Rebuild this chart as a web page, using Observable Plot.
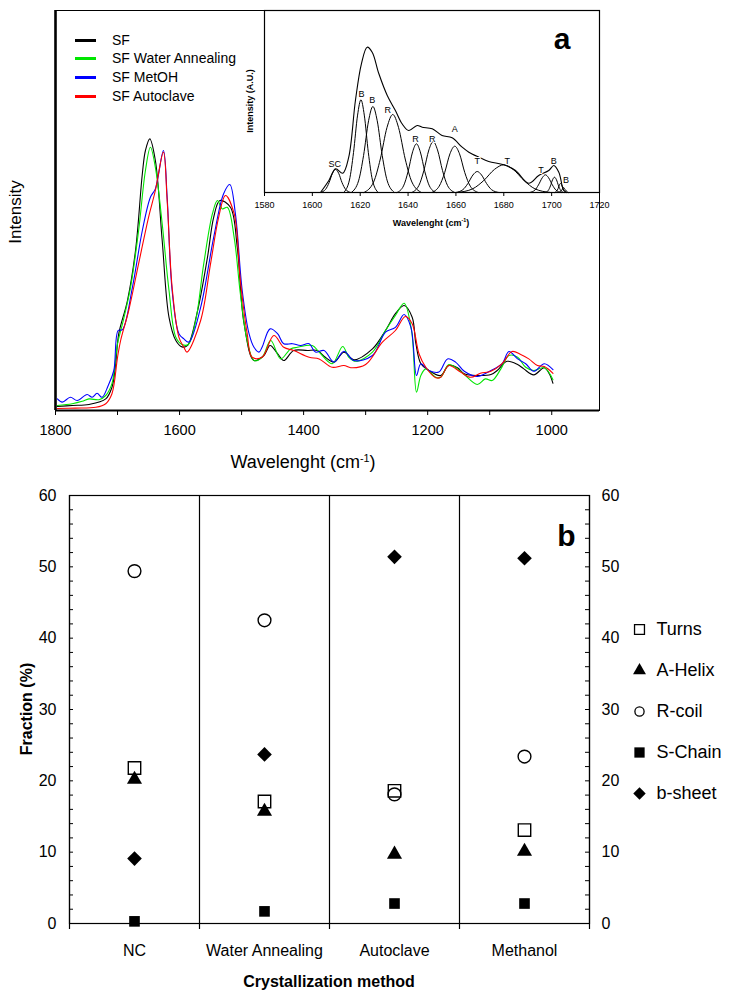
<!DOCTYPE html>
<html><head><meta charset="utf-8">
<script src="https://cdn.jsdelivr.net/npm/d3@7"></script>
<script src="https://cdn.jsdelivr.net/npm/@observablehq/plot@0.6"></script>
<style>
body{margin:0;background:#fff;font-family:"Liberation Sans",Arial,sans-serif;}
#fig{position:relative;width:732px;height:1001px;overflow:hidden;background:#fff;}
.lbl{position:absolute;white-space:nowrap;line-height:1;color:#000;}
.lbl sup{font-size:0.6em;vertical-align:0.6em;}
</style></head><body><div id="fig"></div>
<script>
// ---------------- Panel a : FTIR spectra ----------------
const seriesNames = ["SF", "SF Water Annealing", "SF MetOH", "SF Autoclave"];
const seriesColors = ["#000000", "#00e600", "#0000ff", "#ff0000"];

const specSF = [[1797,1.0],[1773,1.25],[1746,1.5],[1719,2.9],[1709,5.8],[1703,11.7],[1698,19.2],[1684,27.5],[1671,40],[1660,59.2],[1655,65],[1648,67.9],[1639,62.5],[1628,42.5],[1617,23.3],[1606,17.5],[1596,15.9],[1587,16.3],[1572,24.2],[1555,38.3],[1545,48.3],[1535,52.5],[1518,50.8],[1507,40.8],[1496,21.7],[1480,12.5],[1464,13.75],[1454,16.25],[1442,14.2],[1432,12.5],[1416,15],[1394,15],[1378,15],[1365,13.3],[1351,12.1],[1335,14.6],[1319,12.7],[1289,15.4],[1268,20],[1252,24.2],[1238,26.25],[1225,23.3],[1219,16.7],[1211,11.7],[1198,10],[1179,8.75],[1166,11.25],[1152,10.7],[1141,9.2],[1120,8.75],[1098,9],[1088,10],[1072,12.3],[1055,11.5],[1045,10.4],[1029,8.9],[1012,10.7],[1004,9.2],[998,6.8]];
const specWater = [[1797,1.25],[1773,1.7],[1757,2.3],[1746,2.9],[1730,2.7],[1719,3.75],[1709,6.7],[1700,16.7],[1692,21.7],[1679,30.8],[1666,45],[1655,60],[1647,65.8],[1639,60.8],[1628,46.7],[1617,30],[1606,18.3],[1596,16.5],[1586,16.5],[1574,22.5],[1561,36.7],[1547,49.2],[1539,52.5],[1531,50.4],[1523,50.8],[1512,43.3],[1502,29.2],[1491,17.5],[1480,12.5],[1467,13.3],[1453,17.5],[1437,12.9],[1421,15.4],[1410,15.8],[1386,16.25],[1375,14.6],[1354,11.7],[1337,16],[1327,13.3],[1316,12.3],[1289,14.6],[1268,20],[1252,23.75],[1238,26.8],[1226,20],[1218,4.6],[1211,8.75],[1203,10.4],[1187,8.3],[1179,8.3],[1166,11.5],[1152,10.4],[1141,9],[1120,6.5],[1107,7.9],[1096,7.5],[1082,10.4],[1069,13.75],[1055,13.3],[1042,10.8],[1029,10],[1012,10.7],[998,7.7]];
const specMetOH = [[1797,2.9],[1789,2.1],[1776,3.3],[1765,2.5],[1749,4],[1741,3.3],[1733,4.3],[1725,3.3],[1715,6.25],[1706,10],[1699,20],[1692,20.2],[1676,30.8],[1660,45],[1647,53.3],[1639,55.4],[1626,65],[1620,53.3],[1612,30],[1601,19.2],[1593,17.9],[1585,17.1],[1566,25.8],[1545,43.3],[1529,54.2],[1519,56.5],[1510,49.2],[1499,30],[1488,19.2],[1480,15.8],[1472,14.6],[1467,15.8],[1454,20.4],[1442,19.2],[1432,16.7],[1418,16.7],[1405,16.25],[1391,16.7],[1381,14.6],[1367,15],[1351,12.1],[1335,14.8],[1319,12.5],[1289,13.75],[1268,19.6],[1252,20.8],[1238,24],[1227,20.8],[1218,8.75],[1211,11.7],[1198,10],[1182,9.6],[1168,12.9],[1155,12.1],[1141,9.8],[1120,8.5],[1098,10],[1080,11.7],[1069,14.75],[1055,12.9],[1042,11.7],[1029,9.8],[1012,11.7],[998,10.2]];
const specAutoclave = [[1797,0.5],[1768,0.6],[1735,0.8],[1719,1.7],[1709,4.2],[1700,13.3],[1695,17.5],[1682,25],[1666,36.7],[1650,48.3],[1639,55],[1626,64.6],[1620,52.5],[1612,30.8],[1601,18.3],[1593,15.8],[1588,14.6],[1566,22.5],[1550,36.7],[1537,48.3],[1526,53.75],[1512,49.2],[1502,32.5],[1491,19.2],[1483,13.3],[1467,13.3],[1448,18.75],[1432,15.8],[1416,15],[1391,13.3],[1375,12.9],[1354,10.8],[1335,11.25],[1324,10.7],[1300,11.5],[1273,17.1],[1252,20],[1236,23.5],[1225,21.7],[1214,14.2],[1203,10.8],[1187,8.2],[1179,8.3],[1166,11.25],[1147,9.6],[1131,8.3],[1115,9.3],[1098,9.8],[1080,11.7],[1064,14.75],[1050,14],[1037,12.9],[1023,11.25],[1012,11],[998,9.3]];
const spectra = [specSF, specWater, specMetOH, specAutoclave];

const mainTicks = [1800, 1600, 1400, 1200, 1000];
const mainMinorTicks = [1700, 1500, 1300, 1100];

// ---------------- Panel a inset : amide I deconvolution ----------------
const insetEnvelope = [[1603.4,0],[1606.9,12],[1609.7,23.7],[1612.7,19.3],[1615.2,35.3],[1618.0,92],[1620.5,128.7],[1622.9,145.3],[1625.0,140.3],[1627.8,118.7],[1631.3,97],[1634.7,82],[1637.5,68.7],[1640.3,62],[1643.8,67],[1645.9,65.3],[1650.1,63.7],[1654.2,57],[1658.4,54.7],[1662.6,45.3],[1665.4,40.3],[1669.6,35.3],[1673.7,31],[1680.0,27.7],[1684.9,22],[1690.4,9.3],[1694.6,17],[1698.8,22],[1700.9,27],[1703.0,20.3],[1705.1,2],[1706.5,0]];
const bandSC = [[1603.4,0],[1605.5,3.1],[1607.0,9.9],[1608.4,19.2],[1609.7,23],[1611.0,19.2],[1612.4,9.9],[1613.9,3.1],[1616.0,0]];
const bandB1 = [[1613.1,0],[1615.5,12.5],[1617.2,39.9],[1618.9,77.4],[1620.3,92.7],[1621.7,77.4],[1623.4,39.9],[1625.1,12.5],[1627.5,0]];
const bandB2 = [[1616.3,0],[1619.3,11.6],[1621.4,37],[1623.5,71.8],[1625.3,86],[1627.1,71.8],[1629.2,37],[1631.3,11.6],[1634.3,0]];
const bandR1 = [[1621.6,0],[1625.6,10.5],[1628.4,33.5],[1631.2,65.1],[1633.6,78],[1636.0,65.1],[1638.8,33.5],[1641.6,10.5],[1645.6,0]];
const bandR2 = [[1635.4,0],[1638.1,6.6],[1640.0,20.9],[1641.9,40.7],[1643.5,48.7],[1645.1,40.7],[1647.0,20.9],[1648.9,6.6],[1651.6,0]];
const bandR3 = [[1641.5,0],[1644.5,6.9],[1646.6,21.9],[1648.7,42.6],[1650.5,51],[1652.3,42.6],[1654.4,21.9],[1656.5,6.9],[1659.5,0]];
const bandA  = [[1649.8,0],[1653.0,6.3],[1655.3,19.9],[1657.5,38.7],[1659.5,46.3],[1661.5,38.7],[1663.7,19.9],[1666.0,6.3],[1669.3,0]];
const bandT1 = [[1659.9,0],[1662.9,2.8],[1665.0,9.0],[1667.1,17.5],[1668.9,21],[1670.7,17.5],[1672.8,9.0],[1674.9,2.8],[1677.9,0]];
const bandT2 = [[1660.5,0],[1667.0,3.7],[1671.6,11.9],[1676.1,23.1],[1680.0,27.7],[1683.9,23.1],[1688.5,11.9],[1693.0,3.7],[1699.5,0]];
const bandT3 = [[1690.8,0],[1693.0,2.4],[1694.5,7.6],[1696.1,14.8],[1697.4,17.7],[1698.7,14.8],[1700.3,7.6],[1701.8,2.4],[1704.0,0]];
const bandB3 = [[1697.3,0],[1698.6,2.1],[1699.5,6.6],[1700.4,12.8],[1701.2,15.3],[1702.0,12.8],[1702.9,6.6],[1703.8,2.1],[1705.1,0]];
const bandB4 = [[1701.3,0],[1702.7,3.9],[1703.2,7.5],[1703.7,9],[1704.2,7.5],[1704.7,3.9],[1706.1,0]];
const bandB5 = [[1703.2,0],[1704.4,3],[1705.0,5],[1705.6,3],[1706.8,0]];
const insetBands = [bandSC, bandB1, bandB2, bandR1, bandR2, bandR3, bandA, bandT1, bandT2, bandT3, bandB3, bandB4, bandB5];
const insetLabelText = ["SC","B","B","R","R","R","A","T","T","T","B","B"];
const insetLabelWave = [1609.4,1620.5,1625.0,1631.5,1643.1,1650.1,1659.5,1668.9,1681.4,1695.6,1700.9,1706.0];
const insetLabelInt  = [28,98,92.7,82,53.7,53.7,63.7,31.3,31.3,22.7,31.3,12.3];
const insetTicks = [1580,1600,1620,1640,1660,1680,1700,1720];

// ---------------- Panel b : secondary structure fractions ----------------
const methods = ["NC", "Water Annealing", "Autoclave", "Methanol"];
const structures = ["Turns", "A-Helix", "R-coil", "S-Chain", "b-sheet"];
const turns  = [21.8, 17.1, 18.6, 13.1];
const aHelix = [20.2, 15.7, 9.7, 10.1];
const rCoil  = [49.4, 42.5, 18.1, 23.4];
const sChain = [0.3, 1.7, 2.8, 2.8];
const bSheet = [9.1, 23.7, 51.4, 51.2];
const fractionSeries = [turns, aHelix, rCoil, sChain, bSheet];
const fractionTicks = [0, 10, 20, 30, 40, 50, 60];
const fractionMinorTicks = d3.range(0, 61, 2);

// ---------------- helpers ----------------
const FONT = '"Liberation Sans", Arial, sans-serif';
const fig = document.getElementById("fig");
const baseStyle = {background: "none", fontFamily: FONT, overflow: "visible", color: "#000"};
function place(el, left, top) {
  el.style.position = "absolute"; el.style.left = left + "px"; el.style.top = top + "px";
  fig.appendChild(el);
}
function label(html, cx, cy, css, rotate) {
  const d = document.createElement("div");
  d.className = "lbl";
  d.innerHTML = html;
  d.style.left = cx + "px"; d.style.top = cy + "px";
  d.style.transform = "translate(-50%,-50%)" + (rotate ? ` rotate(${rotate}deg)` : "");
  Object.assign(d.style, css || {});
  fig.appendChild(d);
}
const styleByStructure = {
  "Turns":   {symbol: "square",   r: 7.0, fill: "none",  stroke: "black", strokeWidth: 1.4},
  "A-Helix": {symbol: "triangle", r: 5.6, fill: "black", stroke: "none"},
  "R-coil":  {symbol: "circle",   r: 6.4, fill: "none",  stroke: "black", strokeWidth: 1.4},
  "S-Chain": {symbol: "square",   r: 6.0, fill: "black", stroke: "none"},
  "b-sheet": {symbol: "diamond2", r: 6.6, fill: "black", stroke: "none"}
};
const legendStyle = {
  "Turns":   {symbol: "square",   r: 5.6, fill: "none",  stroke: "black", strokeWidth: 1.3},
  "A-Helix": {symbol: "triangle", r: 4.8, fill: "black", stroke: "none"},
  "R-coil":  {symbol: "circle",   r: 4.6, fill: "none",  stroke: "black", strokeWidth: 1.3},
  "S-Chain": {symbol: "square",   r: 5.8, fill: "black", stroke: "none"},
  "b-sheet": {symbol: "diamond2", r: 5.6, fill: "black", stroke: "none"}
};

// ---------------- main spectra plot ----------------
const specRows = spectra.flatMap((s, k) => s.map(([w, v]) => ({series: seriesNames[k], w, v})));
const mainPlot = Plot.plot({
  width: 732, height: 490,
  marginLeft: 55, marginRight: 133, marginTop: 10, marginBottom: 80,
  style: baseStyle,
  x: {domain: [1800, 923], axis: null},
  y: {domain: [0, 100], axis: null},
  color: {domain: seriesNames, range: seriesColors},
  marks: [
    Plot.frame({stroke: "black", strokeWidth: 1}),
    Plot.line(specRows, {x: "w", y: "v", z: "series", stroke: "series", strokeWidth: 1.1, curve: "catmull-rom"}),
    Plot.ruleX([1800], {stroke: "black", strokeWidth: 2.6}),
    Plot.ruleY([0], {stroke: "black", strokeWidth: 2}),
    Plot.axisX(mainTicks, {tickSize: 5, tickPadding: 9, fontSize: 14.5, label: null, tickFormat: d => String(d)}),
    Plot.axisX(mainMinorTicks, {tickSize: 5, tickFormat: () => "", label: null})
  ]
});
place(mainPlot, 0, 0);

// ---------------- inset plot ----------------
const bandRows = insetBands.flatMap((b, k) => b.map(([w, v]) => ({band: k, w, v})));
const envRows = insetEnvelope.map(([w, v]) => ({w, v}));
const insetLabelRows = insetLabelText.map((t, i) => ({t, w: insetLabelWave[i], v: insetLabelInt[i]}));
const insetPlot = Plot.plot({
  width: 380, height: 232,
  marginLeft: 30, marginRight: 15, marginTop: 10, marginBottom: 40,
  style: baseStyle,
  x: {domain: [1580, 1720], axis: null},
  y: {domain: [0, 182], axis: null},
  marks: [
    Plot.frame({stroke: "black", strokeWidth: 1.2}),
    Plot.line(bandRows, {x: "w", y: "v", z: "band", stroke: "black", strokeWidth: 1, curve: "monotone-x"}),
    Plot.line(envRows, {x: "w", y: "v", stroke: "black", strokeWidth: 1.1, curve: "catmull-rom"}),
    Plot.text(insetLabelRows, {x: "w", y: "v", text: "t", fontSize: 9, fill: "black", stroke: "white", strokeWidth: 2, paintOrder: "stroke"}),
    Plot.axisX(insetTicks, {tickSize: 4, tickPadding: 5, fontSize: 9, label: null, tickFormat: d => String(d)}),
    Plot.text(["a"], {frameAnchor: "top-right", textAnchor: "end", lineAnchor: "bottom", dx: -29, dy: 38, fontSize: 30, fontWeight: "bold"})
  ]
});
place(insetPlot, 234, 0);

// ---------------- panel b plot ----------------
const fracRows = fractionSeries.flatMap((vals, k) =>
  vals.map((v, i) => ({structure: structures[k], method: methods[i], xi: i + 0.5, v})));
const plotInnerWidth = 732 - 69 - 143;
const panelB = Plot.plot({
  width: 732, height: 531,
  marginLeft: 69, marginRight: 143, marginTop: 25, marginBottom: 78,
  style: baseStyle,
  x: {domain: [0, methods.length], axis: null},
  y: {domain: [0, 60], axis: null},
  marks: [
    Plot.ruleX(d3.range(0, methods.length + 1), {stroke: "black", strokeWidth: 1.2, insetBottom: -6}),
    Plot.frame({stroke: "black", strokeWidth: 1.2}),
    // inward minor/major ticks on both vertical axes
    Plot.tickY(fractionMinorTicks, {y: d => d, stroke: "black", insetRight: plotInnerWidth - 4}),
    Plot.tickY(fractionMinorTicks, {y: d => d, stroke: "black", insetLeft: plotInnerWidth - 4}),
    Plot.axisX(methods.map((m, i) => i + 0.5), {tickSize: 0, tickPadding: 21, fontSize: 16, label: null, tickFormat: v => methods[Math.floor(v)]}),
    Plot.axisY(fractionTicks, {anchor: "left", tickSize: 0, tickPadding: 13, fontSize: 16, label: null, tickFormat: d => String(d)}),
    Plot.axisY(fractionTicks, {anchor: "right", tickSize: 0, tickPadding: 12, fontSize: 16, label: null, tickFormat: d => String(d)}),
    ...structures.map(s => Plot.dot(fracRows.filter(d => d.structure === s), {x: "xi", y: "v", ...styleByStructure[s]})),
    Plot.text(["b"], {frameAnchor: "top-right", textAnchor: "end", lineAnchor: "bottom", dx: -14, dy: 50, fontSize: 30, fontWeight: "bold"})
  ]
});
place(panelB, 0, 470);

// legend of panel b
const legendB = Plot.plot({
  width: 120, height: 240,
  style: baseStyle,
  x: {domain: [0, 1], range: [9, 110], axis: null},
  y: {type: "point", domain: structures, range: [17, 225], axis: null},
  marks: [
    ...structures.map(s => Plot.dot([s], {x: () => 0, y: d => d, ...legendStyle[s]})),
    Plot.text(structures, {x: () => 0, y: d => d, dx: 17, textAnchor: "start", fontSize: 18})
  ]
});
place(legendB, 630, 590);

// legend of panel a (HTML, real text)
seriesNames.forEach((name, i) => {
  const cy = [40, 58, 77, 96][i];
  const bar = document.createElement("div");
  Object.assign(bar.style, {position: "absolute", left: "75px", top: (cy - 1.5) + "px", width: "21px", height: "3px", background: seriesColors[i]});
  fig.appendChild(bar);
  const t = document.createElement("div");
  t.className = "lbl";
  t.textContent = name;
  Object.assign(t.style, {left: "112px", top: cy + "px", transform: "translateY(-50%)", fontSize: "14px"});
  fig.appendChild(t);
});

// axis titles
label("Intensity", 15, 212, {fontSize: "17px"}, -90);
label("Wavelenght (cm<sup>-1</sup>)", 303, 462, {fontSize: "18px"});
label("Wavelenght (cm<sup>-1</sup>)", 431, 223, {fontSize: "9px", fontWeight: "bold"});
label("Intensity (A.U.)", 250, 101, {fontSize: "9px", fontWeight: "bold"}, -90);
label("Fraction (%)", 27, 709, {fontSize: "16px", fontWeight: "bold"}, -90);
label("Crystallization method", 329, 982, {fontSize: "16px", fontWeight: "bold"});
</script></body></html>
